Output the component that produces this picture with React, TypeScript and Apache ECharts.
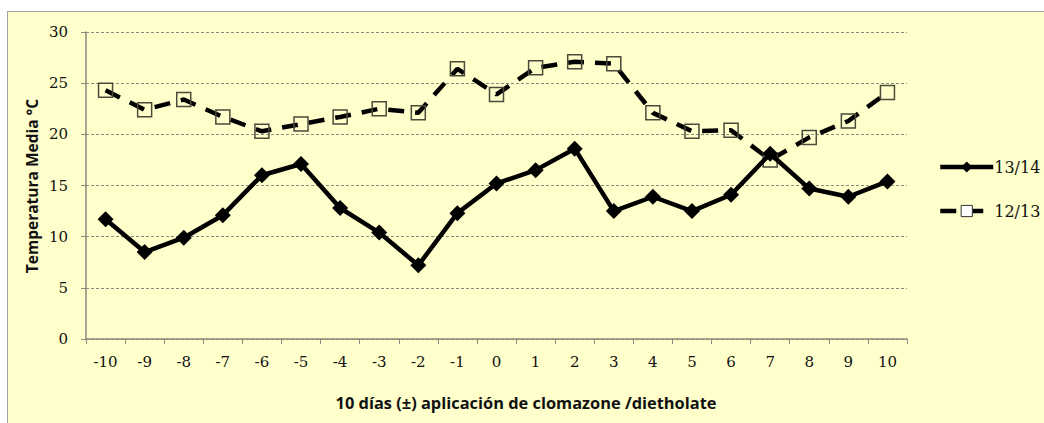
import React, { useEffect, useRef } from "react";
import * as echarts from "echarts";

const categories = ["-10", "-9", "-8", "-7", "-6", "-5", "-4", "-3", "-2", "-1", "0", "1", "2", "3", "4", "5", "6", "7", "8", "9", "10"];
const serie1314 = [11.7, 8.5, 9.9, 12.1, 16.0, 17.1, 12.8, 10.4, 7.2, 12.3, 15.2, 16.5, 18.6, 12.5, 13.9, 12.5, 14.1, 18.1, 14.7, 13.9, 15.4];
const serie1213 = [24.3, 22.4, 23.4, 21.7, 20.3, 21.0, 21.7, 22.5, 22.1, 26.4, 23.9, 26.5, 27.1, 26.9, 22.1, 20.3, 20.4, 17.5, 19.7, 21.3, 24.1];
const seriesNames = ["13/14", "12/13"];
const yAxisTitle = "Temperatura Media °C";
const xAxisTitle = "10 días (±) aplicación de clomazone /dietholate";

export default function App() {
  const ref = useRef<HTMLDivElement>(null);
  useEffect(() => {
    if (!ref.current) return;
    const chart = echarts.init(ref.current, null, { renderer: "svg" });
    const serif = "DejaVu Serif";
    const sans = "Open Sans";
    chart.setOption({
      animation: false,
      backgroundColor: "transparent",
      grid: { left: 86, right: 137, top: 32, bottom: 84 },
      xAxis: {
        type: "category",
        data: categories,
        boundaryGap: true,
        axisLine: { lineStyle: { color: "#8a8a80", width: 1.5 } },
        axisTick: { show: true, length: 5, lineStyle: { color: "#8a8a80" }, alignWithLabel: false },
        axisLabel: { color: "#111", fontFamily: serif, fontSize: 15, margin: 15 },
        splitLine: { show: false },
      },
      yAxis: {
        type: "value",
        min: 0,
        max: 30,
        interval: 5,
        axisLine: { show: true, lineStyle: { color: "#8a8a80", width: 1.5 } },
        axisTick: { show: true, length: 5, lineStyle: { color: "#8a8a80" } },
        axisLabel: { color: "#111", fontFamily: serif, fontSize: 15, margin: 18 },
        splitLine: { show: true, lineStyle: { color: "#8c8c80", type: [3, 2], width: 1 } },
      },
      legend: {
        orient: "vertical",
        left: 933,
        top: 154,
        itemGap: 28,
        itemWidth: 53,
        itemHeight: 14,
        textStyle: { fontFamily: serif, fontSize: 16, color: "#111", padding: [0, 0, 0, -4] },
        data: [
          { name: seriesNames[0], lineStyle: { width: 4.5 } },
          {
            name: seriesNames[1],
            lineStyle: { width: 4.5 },
            itemStyle: { color: "#ffffff", borderColor: "#333", borderWidth: 1 },
          },
        ],
      },
      graphic: [
        {
          type: "text",
          rotation: Math.PI / 2,
          x: 32,
          y: 186,
          style: {
            text: yAxisTitle,
            fontFamily: sans,
            fontWeight: "bold",
            fontSize: 15.5,
            fill: "#111",
            align: "center",
            verticalAlign: "middle",
          },
        },
        {
          type: "text",
          x: 526,
          y: 402,
          style: {
            text: xAxisTitle,
            fontFamily: sans,
            fontWeight: "bold",
            fontSize: 16.4,
            fill: "#111",
            align: "center",
            verticalAlign: "middle",
          },
        },
      ],
      series: [
        {
          name: seriesNames[0],
          type: "line",
          data: serie1314,
          symbol: "diamond",
          symbolSize: 16,
          itemStyle: { color: "#000" },
          lineStyle: { color: "#000", width: 4.5 },
          z: 3,
        },
        {
          name: seriesNames[1],
          type: "line",
          data: serie1213,
          symbol: "rect",
          symbolSize: 14,
          itemStyle: { color: "rgba(0,0,0,0)", borderColor: "#4a4a3a", borderWidth: 1.5 },
          lineStyle: { color: "#000", width: 4.5, type: [16, 11] },
          z: 2,
        },
      ],
    });
    return () => chart.dispose();
  }, []);

  return (
    <div style={{ position: "fixed", left: 0, top: 0, width: 1044, height: 423, background: "#ffffff", overflow: "hidden" }}>
      <div
        style={{
          position: "absolute",
          left: 7,
          top: 11,
          width: 1100,
          height: 500,
          background: "#FFFFCC",
          borderLeft: "1.5px solid #a0a0a0",
          borderTop: "1.5px solid #a0a0a0",
        }}
      />
      <div ref={ref} style={{ position: "absolute", left: 0, top: 0, width: 1044, height: 423 }} />
    </div>
  );
}
